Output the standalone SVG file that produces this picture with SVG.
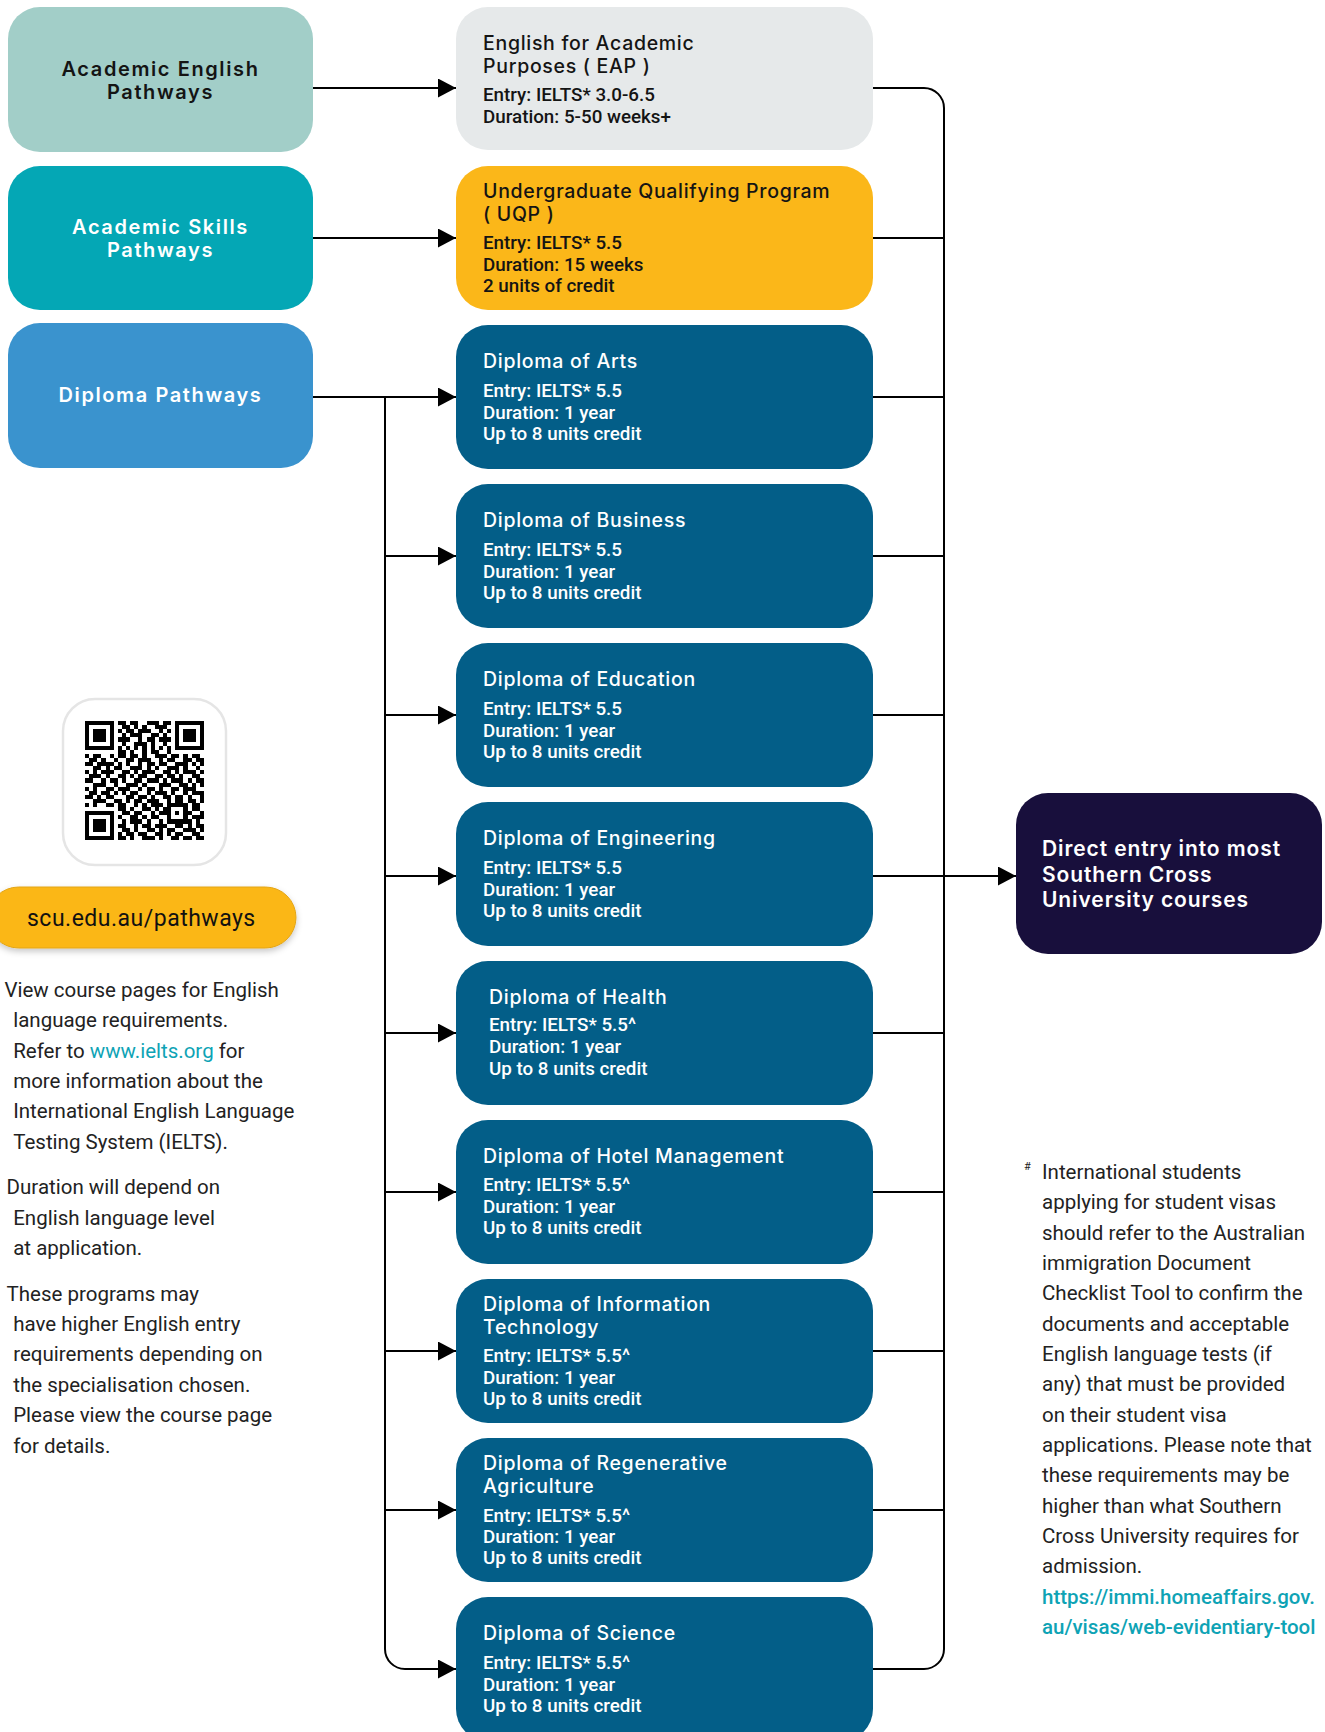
<svg xmlns="http://www.w3.org/2000/svg" width="1325" height="1732" viewBox="0 0 1325 1732">
<defs>
<style>
.lt{font-family:Inter,"Open Sans",sans-serif;font-weight:600;font-size:20px;letter-spacing:1.6px;text-anchor:middle}
.tt{font-family:Inter,"Open Sans",sans-serif;font-weight:500;font-size:19.5px;letter-spacing:0.7px}
.de{font-family:Inter,"Open Sans",sans-serif;font-weight:600;font-size:21px;letter-spacing:0.9px}
.bd{font-family:Roboto,"Liberation Sans",sans-serif;font-weight:500;font-size:18.8px}
.nt{font-family:Roboto,"Liberation Sans",sans-serif;font-weight:400;font-size:20.5px;fill:#222}
.lk{fill:#0ea3b5}
.dk{fill:#141414}
.wh{fill:#ffffff}
.dip{fill:#035e88}
.con{fill:none;stroke:#000;stroke-width:2}
</style>
<marker id="ah" viewBox="0 0 18 19" markerWidth="18" markerHeight="19" refX="18" refY="9.5" orient="auto" markerUnits="userSpaceOnUse"><path d="M0 0L18 9.5L0 19z" fill="#000"/></marker>
<filter id="sh" x="-10%" y="-30%" width="120%" height="170%"><feDropShadow dx="0" dy="3" stdDeviation="3" flood-color="#000" flood-opacity="0.22"/></filter>
</defs>
<rect width="1325" height="1732" fill="#fff"/>

<g id="connectors">
<path class="con" d="M313 88H456" marker-end="url(#ah)"/>
<path class="con" d="M313 238H456" marker-end="url(#ah)"/>
<path class="con" d="M313 397H456" marker-end="url(#ah)"/>
<path class="con" d="M385 397V1649A20 20 0 0 0 405 1669H456" marker-end="url(#ah)"/>
<path class="con" d="M385 556H456" marker-end="url(#ah)"/>
<path class="con" d="M385 715H456" marker-end="url(#ah)"/>
<path class="con" d="M385 876H456" marker-end="url(#ah)"/>
<path class="con" d="M385 1033H456" marker-end="url(#ah)"/>
<path class="con" d="M385 1192H456" marker-end="url(#ah)"/>
<path class="con" d="M385 1351H456" marker-end="url(#ah)"/>
<path class="con" d="M385 1510H456" marker-end="url(#ah)"/>
<path class="con" d="M873 88H924A20 20 0 0 1 944 108V1649A20 20 0 0 1 924 1669H873"/>
<path class="con" d="M873 238H944M873 397H944M873 556H944M873 715H944M873 1033H944M873 1192H944M873 1351H944M873 1510H944"/>
<path class="con" d="M873 876H1016" marker-end="url(#ah)"/>
</g>

<g id="academic-english">
<rect x="8" y="7" width="305" height="145" rx="32" fill="#a2cec8"/>
<text class="lt dk" x="160.5" y="76">Academic English<tspan x="160.5" dy="23">Pathways</tspan></text>
</g>
<g id="academic-skills">
<rect x="8" y="166" width="305" height="144" rx="32" fill="#04a7b5"/>
<text class="lt wh" x="160.5" y="234">Academic Skills<tspan x="160.5" dy="23">Pathways</tspan></text>
</g>
<g id="diploma-pathways">
<rect x="8" y="323" width="305" height="145" rx="32" fill="#3a93ce"/>
<text class="lt wh" x="160.5" y="402">Diploma Pathways</text>
</g>

<g id="eap">
<rect x="456" y="7" width="417" height="143" rx="32" fill="#e6e9ea"/>
<text class="tt dk" x="483" y="50">English for Academic<tspan x="483" dy="23">Purposes ( EAP )</tspan></text>
<text class="bd dk" x="483" y="101">Entry: IELTS* 3.0-6.5</text>
<text class="bd dk" x="483" y="123">Duration: 5-50 weeks+</text>
</g>
<g id="uqp">
<rect x="456" y="166" width="417" height="144" rx="32" fill="#fbb719"/>
<text class="tt dk" x="483" y="198">Undergraduate Qualifying Program<tspan x="483" dy="23">( UQP )</tspan></text>
<text class="bd dk" x="483" y="249">Entry: IELTS* 5.5</text>
<text class="bd dk" x="483" y="271">Duration: 15 weeks</text>
<text class="bd dk" x="483" y="292">2 units of credit</text>
</g>

<g id="diploma-arts">
<rect class="dip" x="456" y="325" width="417" height="144" rx="32"/>
<text class="tt wh" x="483" y="368">Diploma of Arts</text>
<text class="bd wh" x="483" y="397">Entry: IELTS* 5.5</text>
<text class="bd wh" x="483" y="419">Duration: 1 year</text>
<text class="bd wh" x="483" y="440">Up to 8 units credit</text>
</g>
<g id="diploma-business">
<rect class="dip" x="456" y="484" width="417" height="144" rx="32"/>
<text class="tt wh" x="483" y="527">Diploma of Business</text>
<text class="bd wh" x="483" y="556">Entry: IELTS* 5.5</text>
<text class="bd wh" x="483" y="578">Duration: 1 year</text>
<text class="bd wh" x="483" y="599">Up to 8 units credit</text>
</g>
<g id="diploma-education">
<rect class="dip" x="456" y="643" width="417" height="144" rx="32"/>
<text class="tt wh" x="483" y="686">Diploma of Education</text>
<text class="bd wh" x="483" y="715">Entry: IELTS* 5.5</text>
<text class="bd wh" x="483" y="737">Duration: 1 year</text>
<text class="bd wh" x="483" y="758">Up to 8 units credit</text>
</g>
<g id="diploma-engineering">
<rect class="dip" x="456" y="802" width="417" height="144" rx="32"/>
<text class="tt wh" x="483" y="845">Diploma of Engineering</text>
<text class="bd wh" x="483" y="874">Entry: IELTS* 5.5</text>
<text class="bd wh" x="483" y="896">Duration: 1 year</text>
<text class="bd wh" x="483" y="917">Up to 8 units credit</text>
</g>
<g id="diploma-health">
<rect class="dip" x="456" y="961" width="417" height="144" rx="32"/>
<text class="tt wh" x="489" y="1004">Diploma of Health</text>
<text class="bd wh" x="489" y="1031">Entry: IELTS* 5.5^</text>
<text class="bd wh" x="489" y="1053">Duration: 1 year</text>
<text class="bd wh" x="489" y="1075">Up to 8 units credit</text>
</g>
<g id="diploma-hotel">
<rect class="dip" x="456" y="1120" width="417" height="144" rx="32"/>
<text class="tt wh" x="483" y="1163">Diploma of Hotel Management</text>
<text class="bd wh" x="483" y="1191">Entry: IELTS* 5.5^</text>
<text class="bd wh" x="483" y="1213">Duration: 1 year</text>
<text class="bd wh" x="483" y="1234">Up to 8 units credit</text>
</g>
<g id="diploma-it">
<rect class="dip" x="456" y="1279" width="417" height="144" rx="32"/>
<text class="tt wh" x="483" y="1311">Diploma of Information<tspan x="483" dy="23">Technology</tspan></text>
<text class="bd wh" x="483" y="1362">Entry: IELTS* 5.5^</text>
<text class="bd wh" x="483" y="1384">Duration: 1 year</text>
<text class="bd wh" x="483" y="1405">Up to 8 units credit</text>
</g>
<g id="diploma-regenerative">
<rect class="dip" x="456" y="1438" width="417" height="144" rx="32"/>
<text class="tt wh" x="483" y="1470">Diploma of Regenerative<tspan x="483" dy="23">Agriculture</tspan></text>
<text class="bd wh" x="483" y="1522">Entry: IELTS* 5.5^</text>
<text class="bd wh" x="483" y="1543">Duration: 1 year</text>
<text class="bd wh" x="483" y="1564">Up to 8 units credit</text>
</g>
<g id="diploma-science">
<rect class="dip" x="456" y="1597" width="417" height="144" rx="32"/>
<text class="tt wh" x="483" y="1640">Diploma of Science</text>
<text class="bd wh" x="483" y="1669">Entry: IELTS* 5.5^</text>
<text class="bd wh" x="483" y="1691">Duration: 1 year</text>
<text class="bd wh" x="483" y="1712">Up to 8 units credit</text>
</g>

<g id="direct-entry">
<rect x="1016" y="793" width="306" height="161" rx="32" fill="#180f3c"/>
<text class="de wh" x="1042" y="856">Direct entry into most<tspan x="1042" dy="25.5">Southern Cross</tspan><tspan x="1042" dy="25.5">University courses</tspan></text>
</g>

<g id="qr-card">
<rect x="63" y="699" width="163" height="166" rx="32" fill="#fff" stroke="#e5e5e5" stroke-width="2.5"/>
<path transform="translate(85 721) scale(4.1)" fill="#000" shape-rendering="crispEdges" d="M0 0h7v1h-7zM8 0h2v1h-2zM11 0h2v1h-2zM15 0h3v1h-3zM19 0h2v1h-2zM22 0h7v1h-7zM0 1h1v1h-1zM6 1h1v1h-1zM9 1h2v1h-2zM12 1h1v1h-1zM14 1h1v1h-1zM17 1h3v1h-3zM22 1h1v1h-1zM28 1h1v1h-1zM0 2h1v1h-1zM2 2h3v1h-3zM6 2h1v1h-1zM8 2h1v1h-1zM10 2h2v1h-2zM13 2h3v1h-3zM18 2h1v1h-1zM20 2h1v1h-1zM22 2h1v1h-1zM24 2h3v1h-3zM28 2h1v1h-1zM0 3h1v1h-1zM2 3h3v1h-3zM6 3h1v1h-1zM9 3h1v1h-1zM11 3h3v1h-3zM16 3h2v1h-2zM19 3h1v1h-1zM22 3h1v1h-1zM24 3h3v1h-3zM28 3h1v1h-1zM0 4h1v1h-1zM2 4h3v1h-3zM6 4h1v1h-1zM8 4h3v1h-3zM13 4h1v1h-1zM15 4h2v1h-2zM18 4h3v1h-3zM22 4h1v1h-1zM24 4h3v1h-3zM28 4h1v1h-1zM0 5h1v1h-1zM6 5h1v1h-1zM9 5h1v1h-1zM12 5h3v1h-3zM16 5h1v1h-1zM19 5h1v1h-1zM22 5h1v1h-1zM28 5h1v1h-1zM0 6h7v1h-7zM8 6h1v1h-1zM10 6h1v1h-1zM12 6h1v1h-1zM14 6h1v1h-1zM16 6h1v1h-1zM18 6h1v1h-1zM20 6h1v1h-1zM22 6h7v1h-7zM8 7h2v1h-2zM11 7h1v1h-1zM14 7h1v1h-1zM16 7h2v1h-2zM20 7h1v1h-1zM0 8h1v1h-1zM2 8h2v1h-2zM6 8h1v1h-1zM8 8h2v1h-2zM11 8h2v1h-2zM14 8h1v1h-1zM17 8h3v1h-3zM21 8h2v1h-2zM24 8h1v1h-1zM26 8h2v1h-2zM1 9h2v1h-2zM4 9h1v1h-1zM7 9h1v1h-1zM10 9h2v1h-2zM13 9h3v1h-3zM18 9h1v1h-1zM20 9h2v1h-2zM24 9h2v1h-2zM27 9h2v1h-2zM0 10h2v1h-2zM3 10h4v1h-4zM8 10h1v1h-1zM10 10h1v1h-1zM13 10h1v1h-1zM15 10h2v1h-2zM18 10h2v1h-2zM22 10h3v1h-3zM26 10h1v1h-1zM28 10h1v1h-1zM2 11h2v1h-2zM5 11h1v1h-1zM7 11h2v1h-2zM11 11h3v1h-3zM15 11h1v1h-1zM17 11h1v1h-1zM20 11h3v1h-3zM24 11h1v1h-1zM27 11h1v1h-1zM0 12h1v1h-1zM2 12h1v1h-1zM4 12h3v1h-3zM9 12h2v1h-2zM12 12h1v1h-1zM14 12h3v1h-3zM19 12h2v1h-2zM22 12h1v1h-1zM24 12h3v1h-3zM28 12h1v1h-1zM1 13h3v1h-3zM5 13h1v1h-1zM8 13h2v1h-2zM11 13h1v1h-1zM13 13h2v1h-2zM17 13h2v1h-2zM20 13h2v1h-2zM23 13h1v1h-1zM26 13h2v1h-2zM0 14h2v1h-2zM4 14h1v1h-1zM6 14h2v1h-2zM9 14h1v1h-1zM12 14h2v1h-2zM15 14h3v1h-3zM19 14h1v1h-1zM21 14h3v1h-3zM25 14h1v1h-1zM27 14h2v1h-2zM2 15h3v1h-3zM7 15h1v1h-1zM10 15h3v1h-3zM14 15h1v1h-1zM18 15h3v1h-3zM23 15h2v1h-2zM26 15h1v1h-1zM28 15h1v1h-1zM0 16h1v1h-1zM2 16h1v1h-1zM5 16h2v1h-2zM8 16h3v1h-3zM13 16h1v1h-1zM15 16h2v1h-2zM18 16h1v1h-1zM21 16h2v1h-2zM24 16h3v1h-3zM1 17h2v1h-2zM4 17h2v1h-2zM7 17h1v1h-1zM9 17h1v1h-1zM11 17h2v1h-2zM15 17h1v1h-1zM17 17h3v1h-3zM21 17h1v1h-1zM24 17h1v1h-1zM26 17h3v1h-3zM0 18h2v1h-2zM3 18h1v1h-1zM5 18h2v1h-2zM10 18h2v1h-2zM13 18h2v1h-2zM16 18h1v1h-1zM19 18h2v1h-2zM22 18h2v1h-2zM25 18h1v1h-1zM28 18h1v1h-1zM2 19h3v1h-3zM7 19h2v1h-2zM10 19h1v1h-1zM12 19h2v1h-2zM15 19h3v1h-3zM20 19h1v1h-1zM22 19h2v1h-2zM25 19h2v1h-2zM28 19h1v1h-1zM0 20h1v1h-1zM2 20h1v1h-1zM5 20h2v1h-2zM8 20h2v1h-2zM12 20h1v1h-1zM14 20h1v1h-1zM16 20h3v1h-3zM20 20h5v1h-5zM26 20h2v1h-2zM8 21h2v1h-2zM11 21h1v1h-1zM14 21h2v1h-2zM17 21h1v1h-1zM19 21h2v1h-2zM24 21h1v1h-1zM26 21h2v1h-2zM0 22h7v1h-7zM9 22h2v1h-2zM12 22h2v1h-2zM16 22h1v1h-1zM18 22h3v1h-3zM22 22h1v1h-1zM24 22h2v1h-2zM28 22h1v1h-1zM0 23h1v1h-1zM6 23h1v1h-1zM8 23h1v1h-1zM11 23h2v1h-2zM14 23h1v1h-1zM16 23h2v1h-2zM20 23h1v1h-1zM24 23h1v1h-1zM26 23h3v1h-3zM0 24h1v1h-1zM2 24h3v1h-3zM6 24h1v1h-1zM9 24h1v1h-1zM11 24h3v1h-3zM15 24h1v1h-1zM18 24h1v1h-1zM20 24h6v1h-6zM27 24h1v1h-1zM0 25h1v1h-1zM2 25h3v1h-3zM6 25h1v1h-1zM8 25h2v1h-2zM12 25h1v1h-1zM14 25h2v1h-2zM17 25h3v1h-3zM22 25h2v1h-2zM25 25h1v1h-1zM27 25h2v1h-2zM0 26h1v1h-1zM2 26h3v1h-3zM6 26h1v1h-1zM9 26h2v1h-2zM12 26h1v1h-1zM15 26h2v1h-2zM18 26h1v1h-1zM20 26h2v1h-2zM24 26h3v1h-3zM28 26h1v1h-1zM0 27h1v1h-1zM6 27h1v1h-1zM8 27h1v1h-1zM10 27h2v1h-2zM13 27h2v1h-2zM17 27h2v1h-2zM20 27h1v1h-1zM22 27h2v1h-2zM26 27h2v1h-2zM0 28h7v1h-7zM8 28h2v1h-2zM11 28h1v1h-1zM14 28h3v1h-3zM18 28h1v1h-1zM21 28h2v1h-2zM24 28h2v1h-2zM27 28h2v1h-2z"/>
</g>

<g id="url-pill">
<rect x="-12" y="887" width="308" height="61" rx="30.5" fill="#fbb719" stroke="#e3a514" stroke-width="1" filter="url(#sh)"/>
<text x="27" y="926" style="font-family:Roboto,'Liberation Sans',sans-serif;font-size:23px;letter-spacing:0.5px;fill:#111">scu.edu.au/pathways</text>
</g>

<g id="left-notes">
<text class="nt" x="4.4" y="997">View course pages for English</text>
<text class="nt" x="13.2" y="1027">language requirements.</text>
<text class="nt" x="13.2" y="1058">Refer to <tspan class="lk">www.ielts.org</tspan> for</text>
<text class="nt" x="13.2" y="1088">more information about the</text>
<text class="nt" x="13.2" y="1118">International English Language</text>
<text class="nt" x="13.2" y="1149">Testing System (IELTS).</text>
<text class="nt" x="6.6" y="1194">Duration will depend on</text>
<text class="nt" x="13.2" y="1225">English language level</text>
<text class="nt" x="13.2" y="1255">at application.</text>
<text class="nt" x="6.6" y="1301">These programs may</text>
<text class="nt" x="13.2" y="1331">have higher English entry</text>
<text class="nt" x="13.2" y="1361">requirements depending on</text>
<text class="nt" x="13.2" y="1392">the specialisation chosen.</text>
<text class="nt" x="13.2" y="1422">Please view the course page</text>
<text class="nt" x="13.2" y="1453">for details.</text>
</g>

<g id="right-notes">
<text class="nt" x="1024" y="1170" style="font-size:11px">#</text>
<text class="nt" x="1042" y="1179">International students</text>
<text class="nt" x="1042" y="1209">applying for student visas</text>
<text class="nt" x="1042" y="1240">should refer to the Australian</text>
<text class="nt" x="1042" y="1270">immigration Document</text>
<text class="nt" x="1042" y="1300">Checklist Tool to confirm the</text>
<text class="nt" x="1042" y="1331">documents and acceptable</text>
<text class="nt" x="1042" y="1361">English language tests (if</text>
<text class="nt" x="1042" y="1391">any) that must be provided</text>
<text class="nt" x="1042" y="1422">on their student visa</text>
<text class="nt" x="1042" y="1452">applications. Please note that</text>
<text class="nt" x="1042" y="1482">these requirements may be</text>
<text class="nt" x="1042" y="1513">higher than what Southern</text>
<text class="nt" x="1042" y="1543">Cross University requires for</text>
<text class="nt" x="1042" y="1573">admission.</text>
<text class="nt lk" x="1042" y="1604" style="font-weight:500">https://immi.homeaffairs.gov.</text>
<text class="nt lk" x="1042" y="1634" style="font-weight:500">au/visas/web-evidentiary-tool</text>
</g>
</svg>
